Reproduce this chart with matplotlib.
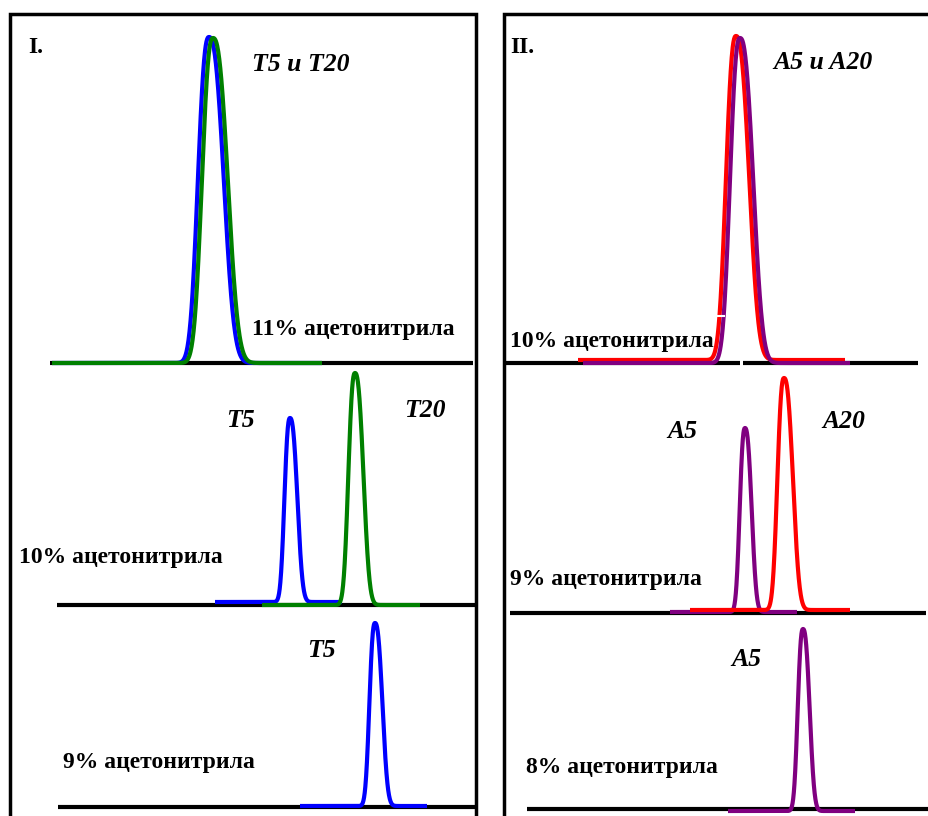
import numpy as np
import matplotlib.pyplot as plt

# chromatogram traces: (strip, sample, colour)
# retention = peak apex position, base = baseline level, apex = apex level
# sig_l / sig_r = front / tail spread, t_start / t_end = recorded range
trace_names = ["T5", "T20", "T5", "T20", "T5",
               "A20", "A5", "A5", "A20", "A5"]
trace_colors = ["#0000ff", "#008000", "#0000ff", "#008000", "#0000ff",
                "#ff0000", "#800080", "#800080", "#ff0000", "#800080"]
retention = [209, 213, 290, 355, 375, 736, 740, 745, 784, 803]
base = [363, 363, 602, 605, 806, 360, 363, 612, 610, 811]
apex = [37, 38, 418, 373, 623, 36, 38, 428, 378, 629]
sig_l = [10.5, 10.5, 5.3, 6.3, 5.3, 9.5, 9.5, 5, 6.3, 5]
sig_r = [14, 14, 7, 8, 7, 12.5, 12.5, 6.3, 8.5, 6.3]
t_start = [52, 52, 215, 262, 300, 578, 583, 670, 690, 728]
t_end = [322, 322, 342, 420, 427, 845, 850, 797, 850, 855]

# time axes (black lines under each chromatogram)
axis_y = [363, 605, 807, 363, 363, 613, 809]
axis_x0 = [50, 57, 58, 505, 743, 510, 527]
axis_x1 = [473, 475, 475, 740, 918, 926, 929]

# text labels
label_text = ["I.", "T5 и T20", "11% ацетонитрила",
              "T5", "T20", "10% ацетонитрила",
              "T5", "9% ацетонитрила",
              "II.", "A5 и A20", "10% ацетонитрила",
              "A5", "A20", "9% ацетонитрила",
              "A5", "8% ацетонитрила"]
label_x = [28, 252, 252, 226, 404, 19, 307, 63,
           510, 773, 510, 667, 822, 510, 731, 526]
label_y = [53, 71, 335, 427, 417, 563, 657, 768,
           53, 69, 347, 438, 428, 585, 666, 773]
label_italic = [False, True, False, True, True, False, True, False,
                False, True, False, True, True, False, True, False]


def peak(t, c, h, sl, sr, p=2.5):
    z = np.abs(t - c) / np.where(t < c, sl, sr)
    return h * np.exp(-0.5 * z ** p)


fig = plt.figure(figsize=(9.29, 8.16), dpi=100)
ax = fig.add_axes([0, 0, 1, 1])
ax.set_xlim(0, 929)
ax.set_ylim(816, 0)
ax.axis("off")

# panel frames (open at the bottom)
ax.plot([10, 10, 476, 476], [830, 14, 14, 830], color="black", lw=2.5,
        solid_joinstyle="miter")
ax.plot([504, 504, 940], [830, 14, 14], color="black", lw=2.5,
        solid_joinstyle="miter")

for x0, x1, y in zip(axis_x0, axis_x1, axis_y):
    ax.plot([x0, x1], [y, y], color="black", lw=3, solid_capstyle="butt")

for i in range(len(retention)):
    t = np.linspace(t_start[i], t_end[i], 800)
    h = base[i] - apex[i]
    y = base[i] - peak(t, retention[i], h, sig_l[i], sig_r[i])
    ax.plot(t, y, color=trace_colors[i], lw=3, solid_capstyle="butt",
            solid_joinstyle="round")

# small white nick on the red/purple peak
ax.plot([716, 724], [316, 316], color="white", lw=1.5)

for txt, x, y, it in zip(label_text, label_x, label_y, label_italic):
    ax.text(x, y, txt, fontsize=18.5 if it else 17, fontweight="bold",
            fontstyle="italic" if it else "normal",
            family="Liberation Serif", ha="left", va="baseline")

fig.savefig("out.png", dpi=100)
